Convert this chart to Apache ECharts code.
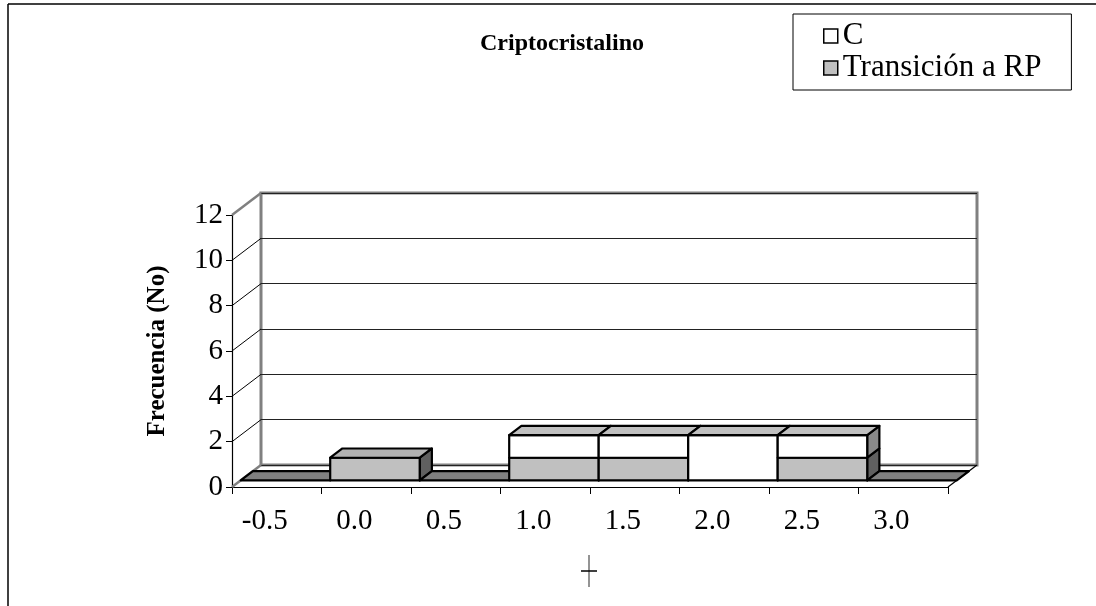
<!DOCTYPE html>
<html>
<head>
<meta charset="utf-8">
<script src="https://cdn.jsdelivr.net/npm/echarts@6/dist/echarts.min.js"></script>
<style>
  html, body { margin: 0; padding: 0; background: #fff; }
  #chart { width: 1096px; height: 606px; }
</style>
</head>
<body>
<div id="chart"></div>
<script>
// Category labels along the x axis
const categories = ['-0.5', '0.0', '0.5', '1.0', '1.5', '2.0', '2.5', '3.0'];
// Stacked counts: lower block (gray) and upper block (white)
const transicionRP = [0, 1, 0, 1, 1, 0, 1, 0];
const cValues = [0, 0, 0, 1, 1, 2, 1, 0];
// Value axis ticks
const yTicks = [0, 2, 4, 6, 8, 10, 12];

const FONT = '"Liberation Serif", "Times New Roman", serif';

// Pseudo-3D depth: offset from the front plane to the back wall, in pixels
const DX = 29, DY = -22;
// Depth range occupied by the columns (fraction of full depth)
const F0 = 0.3, F1 = 0.72;

const GRAY = '#c0c0c0', GRAY_TOP = '#b2b2b2', GRAY_SIDE = '#606060';
const WHITE = '#ffffff', WHITE_TOP = '#c0c0c0', WHITE_SIDE = '#8a8a8a';
const ZERO_TOP = '#808080';

const chart = echarts.init(document.getElementById('chart'), null, { renderer: 'canvas' });

function pt(p, f) { return [p[0] + DX * f, p[1] + DY * f]; }

// One 3D column per category, stacked gray + white
function renderColumn(params, api) {
  const i = api.value(0);
  const g = api.value(1);
  const c = api.value(2);
  const bw = api.size([1, 0])[0];
  const children = [];
  const lineStyle = { stroke: '#000', lineWidth: 2.2, lineJoin: 'round' };
  const leftAt = v => { const p = api.coord([i, v]); return [p[0] - bw / 2, p[1]]; };
  const rightAt = v => { const p = api.coord([i, v]); return [p[0] + bw / 2, p[1]]; };

  if (g + c === 0) {
    const l = leftAt(0), r = rightAt(0);
    children.push({
      type: 'polygon',
      shape: { points: [pt(l, F0), pt(r, F0), pt(r, F1), pt(l, F1)] },
      style: Object.assign({ fill: ZERO_TOP }, lineStyle)
    });
    return { type: 'group', children };
  }

  const segs = [];
  if (g > 0) segs.push({ from: 0, to: g, fill: GRAY, top: GRAY_TOP, side: GRAY_SIDE });
  if (c > 0) segs.push({ from: g, to: g + c, fill: WHITE, top: WHITE_TOP, side: WHITE_SIDE });

  segs.forEach((s, k) => {
    const lb = leftAt(s.from), rb = rightAt(s.from);
    const lt = leftAt(s.to), rt = rightAt(s.to);
    // side face
    children.push({
      type: 'polygon',
      shape: { points: [pt(rb, F0), pt(rb, F1), pt(rt, F1), pt(rt, F0)] },
      style: Object.assign({ fill: s.side }, lineStyle)
    });
    // front face
    children.push({
      type: 'polygon',
      shape: { points: [pt(lb, F0), pt(rb, F0), pt(rt, F0), pt(lt, F0)] },
      style: Object.assign({ fill: s.fill }, lineStyle)
    });
    if (k === segs.length - 1) {
      children.push({
        type: 'polygon',
        shape: { points: [pt(lt, F0), pt(rt, F0), pt(rt, F1), pt(lt, F1)] },
        style: Object.assign({ fill: s.top }, lineStyle)
      });
    }
  });
  return { type: 'group', children };
}

// Side wall / floor edges joining the front axes to the back wall
function renderWalls(params, api) {
  const v = api.value(0);
  const bw = api.size([1, 0])[0];
  const first = api.coord([0, v]);
  const x0 = first[0] - bw / 2;
  const y = first[1];
  const children = [];
  const edge = (v === 0 || v === 12);
  children.push({
    type: 'line',
    shape: { x1: x0, y1: y, x2: x0 + DX, y2: y + DY },
    style: { stroke: edge ? '#808080' : '#000', lineWidth: edge ? 2.5 : 1 }
  });
  if (v === 0) {
    const last = api.coord([categories.length - 1, 0]);
    const x1 = last[0] + bw / 2;
    children.push({
      type: 'line',
      shape: { x1: x1, y1: y, x2: x1 + DX, y2: y + DY },
      style: { stroke: '#000', lineWidth: 1.2 }
    });
  }
  return { type: 'group', children };
}

const option = {
  animation: false,
  backgroundColor: '#fff',
  title: {
    text: 'Criptocristalino',
    left: 557, top: 27, textAlign: 'center',
    textStyle: { fontFamily: FONT, fontSize: 24, fontWeight: 'bold', color: '#000' }
  },
  legend: {
    orient: 'vertical',
    left: 793, top: 14,
    padding: [6, 30, 6, 30],
    itemGap: 0,
    itemWidth: 14, itemHeight: 14,
    borderColor: '#000', borderWidth: 1,
    textStyle: { fontFamily: FONT, fontSize: 31, lineHeight: 32, color: '#000' },
    data: [
      { name: 'C', icon: 'rect', itemStyle: { color: WHITE, borderColor: '#000', borderWidth: 1.5 } },
      { name: 'Transición a RP', icon: 'rect', itemStyle: { color: GRAY, borderColor: '#000', borderWidth: 1.5 } }
    ]
  },
  grid: [
    { left: 232, right: 148, top: 215, bottom: 119 },
    { left: 261, right: 119, top: 193, bottom: 141, show: true, borderColor: '#808080', borderWidth: 3, backgroundColor: 'transparent' }
  ],
  xAxis: [
    {
      gridIndex: 0, type: 'category', data: categories, boundaryGap: true,
      axisLine: { lineStyle: { color: '#000', width: 1.2 } },
      axisTick: { show: true, length: 7, interval: 0, lineStyle: { color: '#000' } },
      axisLabel: { fontFamily: FONT, fontSize: 29, color: '#000', margin: 20, interval: 0, padding: [0, 24, 0, 0] },
      splitLine: { show: false }
    },
    {
      gridIndex: 1, type: 'category', data: categories,
      axisLine: { show: false }, axisTick: { show: false }, axisLabel: { show: false }
    }
  ],
  yAxis: [
    {
      gridIndex: 0, type: 'value', min: 0, max: 12, interval: 2,
      name: 'Frecuencia (No)', nameLocation: 'middle', nameGap: 62,
      nameTextStyle: { fontFamily: FONT, fontSize: 25, fontWeight: 'bold', color: '#000' },
      axisLine: { show: true, lineStyle: { color: '#000', width: 1.2 } },
      axisTick: { show: true, length: 6, lineStyle: { color: '#000' } },
      axisLabel: { fontFamily: FONT, fontSize: 29, color: '#000', margin: 9 },
      splitLine: { show: false }
    },
    {
      gridIndex: 1, type: 'value', min: 0, max: 12, interval: 2,
      axisLine: { show: false }, axisTick: { show: false }, axisLabel: { show: false },
      splitLine: { show: true, lineStyle: { color: '#222', width: 1 } }
    }
  ],
  series: [
    {
      type: 'custom', name: 'walls', xAxisIndex: 0, yAxisIndex: 0,
      renderItem: renderWalls, silent: true, z: 1,
      data: yTicks.map(v => [v])
    },
    {
      type: 'custom', name: 'columns', xAxisIndex: 0, yAxisIndex: 0,
      renderItem: renderColumn, z: 3,
      encode: { x: 0, y: [1, 2] },
      data: categories.map((_, i) => [i, transicionRP[i], cValues[i]])
    },
    { type: 'bar', name: 'C', data: [], itemStyle: { color: WHITE, borderColor: '#000' } },
    { type: 'bar', name: 'Transición a RP', data: [], itemStyle: { color: GRAY, borderColor: '#000' } }
  ],
  graphic: [
    // outer frame (top and left edges)
    { type: 'line', shape: { x1: 8, y1: 4, x2: 1096, y2: 4 }, style: { stroke: '#000', lineWidth: 1.5 }, silent: true, z: 100 },
    { type: 'line', shape: { x1: 8, y1: 4, x2: 8, y2: 606 }, style: { stroke: '#000', lineWidth: 1.5 }, silent: true, z: 100 },
    // x axis title mark
    { type: 'line', shape: { x1: 589, y1: 555, x2: 589, y2: 587 }, style: { stroke: '#707070', lineWidth: 1.5 }, silent: true },
    { type: 'line', shape: { x1: 581, y1: 571, x2: 597, y2: 571 }, style: { stroke: '#000', lineWidth: 1.5 }, silent: true }
  ]
};

chart.setOption(option);
</script>
</body>
</html>
